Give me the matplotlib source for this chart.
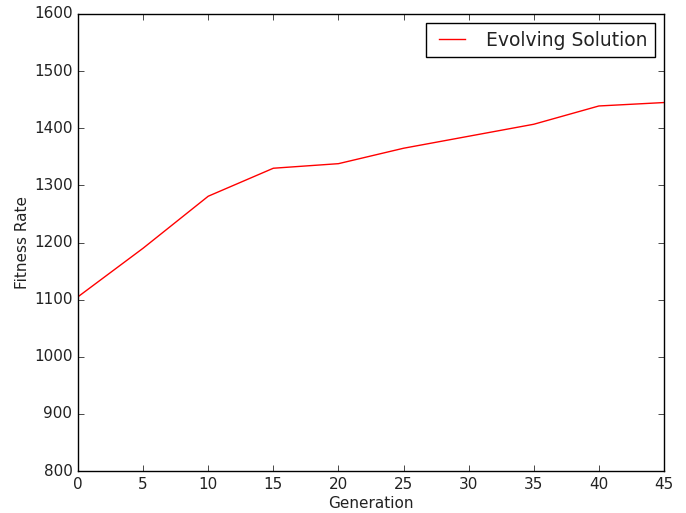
import matplotlib
matplotlib.use("Agg")
import matplotlib.pyplot as plt

plt.style.use('classic')

generations = [0, 5, 10, 15, 20, 25, 30, 35, 40, 45]
fitness = [1105, 1190, 1281, 1330, 1338, 1365, 1386, 1407, 1439, 1445]

fig = plt.figure(figsize=(6.86, 5.13), dpi=100, facecolor='white')
ax = fig.add_axes([78/686, 42/513, 586/686, 457/513])
ax.plot(generations, fitness, color='red', linewidth=1.0, label='Evolving Solution')
ax.set_xlim(0, 45)
ax.set_ylim(800, 1600)
ax.set_xticks(range(0, 46, 5))
ax.set_yticks(range(800, 1601, 100))
ax.tick_params(labelsize=11, colors='black', labelcolor='#222222')
ax.set_xlabel('Generation', fontsize=11, labelpad=3, color='#222222')
ax.set_ylabel('Fitness Rate', fontsize=11, labelpad=3, color='#222222')
leg = ax.legend(loc='upper right', fontsize=13.5)
for t in leg.get_texts():
    t.set_color('#222222')
fig.savefig('out.png', dpi=100, facecolor='white')
